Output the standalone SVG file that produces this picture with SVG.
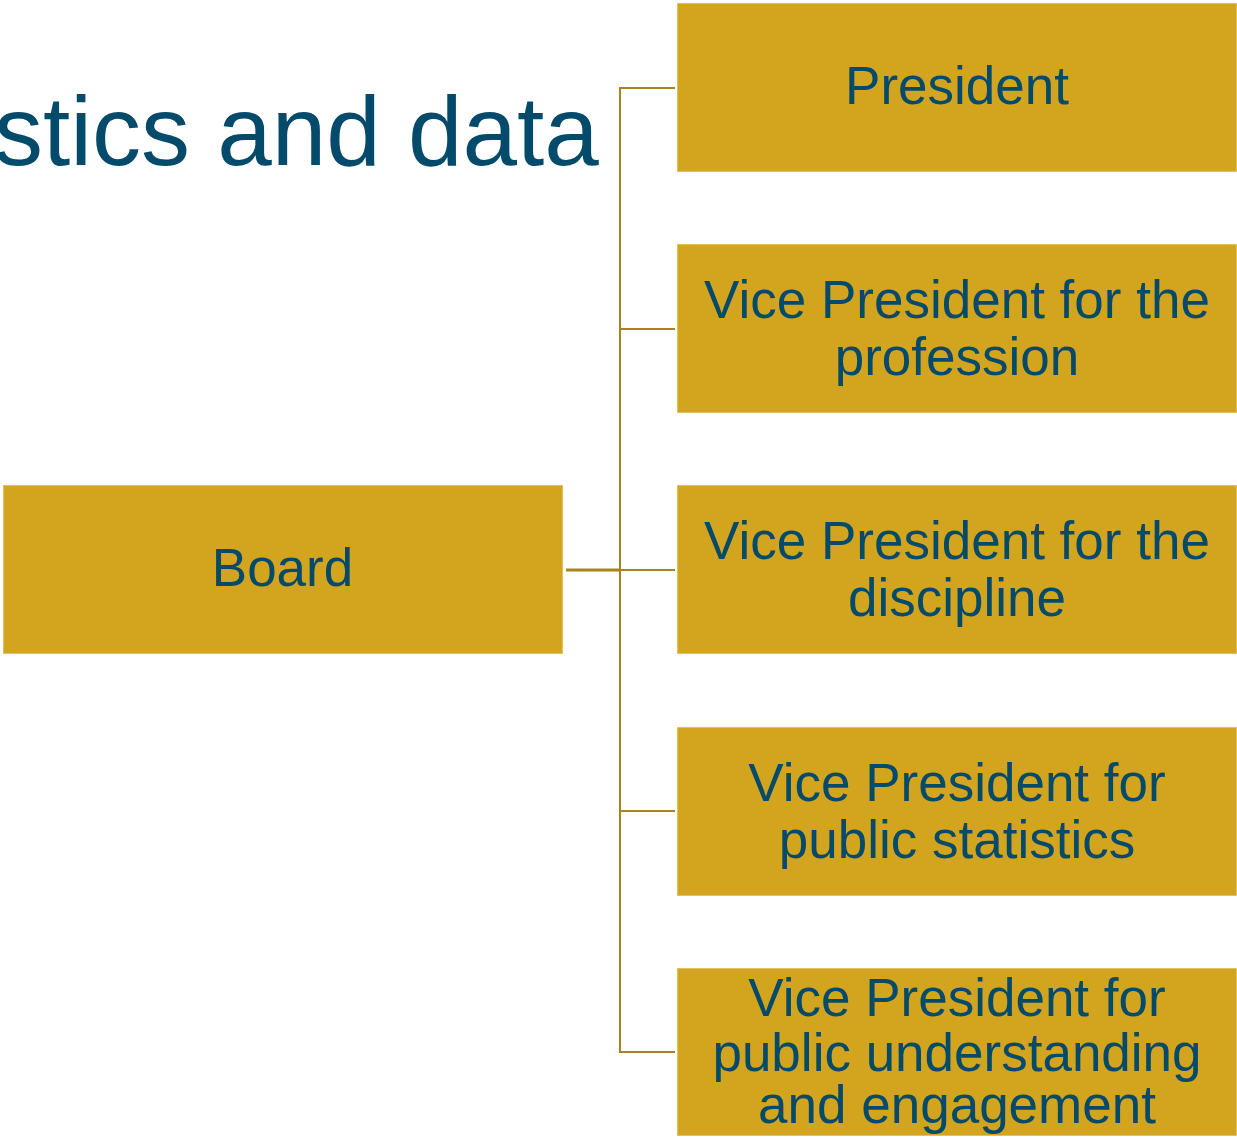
<svg xmlns="http://www.w3.org/2000/svg" width="1237" height="1138" viewBox="0 0 1237 1138">
<style>
.box{fill:#D3A41E;stroke:#E2C260;stroke-width:1}
.t{font-family:"Liberation Sans",Arial,sans-serif;font-size:53px;fill:#044B6B;text-anchor:middle}
.title{font-family:"Liberation Sans",Arial,sans-serif;font-size:98px;fill:#044B6B}
.c{stroke:#A8841F;stroke-width:2;fill:none}
</style>
<rect width="1237" height="1138" fill="#FFFFFF"/>
<text class="title" x="-6" y="165">stics and data</text>
<g id="connectors">
<path class="c" d="M675 88 H620 V1052 H675"/>
<path class="c" d="M620 329 H675"/>
<path class="c" d="M620 570 H675"/>
<path class="c" d="M620 811 H675"/>
<path class="c" d="M566 570 H620" style="stroke-width:3"/>
</g>
<g id="board">
<rect class="box" x="3.5" y="485.5" width="559" height="168"/>
<text class="t" x="282.5" y="586">Board</text>
</g>
<g id="president">
<rect class="box" x="677.5" y="3.5" width="559" height="168"/>
<text class="t" x="957" y="104">President</text>
</g>
<g id="vp-profession">
<rect class="box" x="677.5" y="244.5" width="559" height="168"/>
<text class="t" x="957" y="318">Vice President for the</text>
<text class="t" x="957" y="375">profession</text>
</g>
<g id="vp-discipline">
<rect class="box" x="677.5" y="485.5" width="559" height="168"/>
<text class="t" x="957" y="559">Vice President for the</text>
<text class="t" x="957" y="616">discipline</text>
</g>
<g id="vp-public-statistics">
<rect class="box" x="677.5" y="727.5" width="559" height="168"/>
<text class="t" x="957" y="801">Vice President for</text>
<text class="t" x="957" y="858">public statistics</text>
</g>
<g id="vp-public-understanding">
<rect class="box" x="677.5" y="968.5" width="559" height="167"/>
<text class="t" x="957" y="1016">Vice President for</text>
<text class="t" x="957" y="1071">public understanding</text>
<text class="t" x="957" y="1123">and engagement</text>
</g>
</svg>
